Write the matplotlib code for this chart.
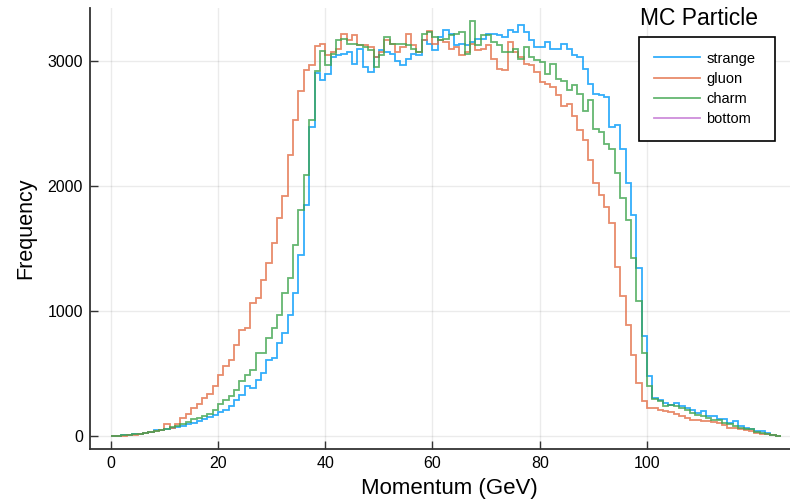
import numpy as np
import matplotlib
matplotlib.use("Agg")
import matplotlib.pyplot as plt

plt.rcParams['font.family'] = ['Liberation Sans', 'DejaVu Sans']

# 直方图的分箱边界 (GeV), 每箱 1 GeV
edges = np.arange(0, 126)

# 各粒子的计数
gluon = [2, 4, 6, 9, 13, 18, 25, 32, 40, 55,
         96, 69, 96, 150, 180, 225, 260, 309, 340, 405,
         495, 560, 614, 735, 855, 870, 1070, 1110, 1250, 1390,
         1545, 1745, 1920, 2250, 2530, 2760, 2935, 2975, 3120, 3140,
         3050, 3075, 3100, 3221, 3168, 3208, 3128, 3128, 3115, 3035,
         3075, 3168, 3141, 3075, 3115, 3221, 3128, 3075, 3168, 3240,
         3141, 3168, 3155, 3101, 3115, 3048, 3075, 3141, 3088, 3101,
         3128, 3022, 2942, 2929, 3155, 3075, 3035, 2982, 2969, 2915,
         2836, 2822, 2796, 2729, 2640, 2660, 2560, 2450, 2370, 2210,
         2024, 1931, 1838, 1705, 1359, 1120, 894, 654, 428, 282,
         229, 229, 215, 202, 195, 176, 165, 149, 135, 135,
         122, 122, 115, 109, 95, 69, 69, 60, 55, 43,
         30, 16, 16, 8, 3]

strange = [2, 4, 8, 12, 16, 22, 28, 35, 50, 50,
           60, 65, 75, 85, 100, 110, 125, 140, 155, 175,
           195, 215, 245, 295, 335, 400, 390, 455, 510, 615,
           630, 750, 830, 975, 1150, 1455, 1850, 2475, 2910, 2850,
           2900, 3035, 3048, 3062, 3075, 2982, 3101, 2955, 2915, 3035,
           3088, 3075, 3062, 3000, 2968, 3020, 3062, 3048, 3168, 3141,
           3088, 3195, 3248, 3221, 3128, 3141, 3128, 3155, 3180, 3180,
           3220, 3221, 3208, 3195, 3248, 3235, 3288, 3235, 3168, 3115,
           3115, 3155, 3101, 3101, 3141, 3101, 3048, 3035, 2942, 2822,
           2742, 2730, 2716, 2476, 2490, 2303, 2024, 1772, 1346, 800,
           481, 308, 295, 269, 255, 269, 242, 229, 215, 189,
           202, 160, 160, 136, 136, 109, 122, 82, 69, 56,
           43, 43, 24, 8, 3]

charm = [2, 4, 8, 12, 18, 22, 30, 38, 45, 52,
         62, 72, 85, 100, 114, 136, 149, 162, 181, 215,
         263, 295, 320, 375, 440, 495, 535, 670, 670, 790,
         870, 975, 1150, 1270, 1530, 1810, 2090, 2535, 2925, 3085,
         2970, 3062, 3168, 3181, 3141, 3141, 3128, 3115, 3088, 2955,
         3048, 3195, 3141, 3141, 3141, 3128, 3101, 3075, 3221, 3234,
         3195, 3168, 3181, 3208, 3220, 3234, 3061, 3327, 3128, 3208,
         3208, 3155, 3128, 3075, 3075, 3101, 3022, 3115, 3035, 3008,
         2995, 2902, 2982, 2862, 2840, 2769, 2809, 2740, 2600, 2690,
         2463, 2437, 2343, 2303, 2104, 1905, 1732, 1426, 1080, 668,
         400, 300, 282, 242, 255, 242, 229, 215, 189, 175,
         162, 149, 135, 130, 109, 100, 82, 70, 60, 56,
         35, 30, 16, 8, 3]

# bottom 没有数据, 只出现在图例里
bottom = []

labels = ['strange', 'gluon', 'charm', 'bottom']
colors = ['#009AFA', '#E36F47', '#3EA44E', '#C271D2']

fig = plt.figure(figsize=(7.9, 5.01), dpi=100)
# 原图右侧被裁掉, 坐标区延伸到画布外
ax = fig.add_axes([90 / 790, 1 - 449 / 501, 719 / 790, 441 / 501])

for vals, lab, col in zip([strange, gluon, charm], labels[:3], colors[:3]):
    ax.stairs(vals, edges, color=col, lw=1.3, alpha=0.8, label=lab)
ax.plot(bottom, bottom, color=colors[3], lw=1.3, alpha=0.8, label=labels[3])

ax.set_xlim(-3.86, 130.2)
ax.set_ylim(-100, 3427)
ax.set_xticks([0, 20, 40, 60, 80, 100])
ax.set_yticks([0, 1000, 2000, 3000])
ax.grid(True, color='#000000', alpha=0.08, lw=1)
ax.set_axisbelow(True)

for s in ['top', 'right']:
    ax.spines[s].set_visible(False)
for s in ['left', 'bottom']:
    ax.spines[s].set_color('#333333')
    ax.spines[s].set_linewidth(1.3)
ax.tick_params(direction='in', length=6, width=1, color='#333333',
               labelsize=11.5, pad=5)

ax.set_xlabel('Momentum (GeV)', fontsize=16, labelpad=5)
ax.set_ylabel('Frequency', fontsize=15.5, labelpad=8)

# 图例框: 像素 x 639-775, 顶部 y=37
leg = ax.legend(loc='upper left', bbox_to_anchor=(549 / 719, 412 / 441, 136 / 719, 0),
                mode='expand', borderaxespad=0, fontsize=10.5, handlelength=3.2,
                handletextpad=0.4, labelspacing=0.42, fancybox=False, framealpha=1,
                edgecolor='black', borderpad=1.0)
leg.get_frame().set_linewidth(1.2)

fig.text(0.885, 0.964, 'MC Particle', fontsize=16.5, ha='center', va='center')

plt.savefig('out.png', dpi=100)
